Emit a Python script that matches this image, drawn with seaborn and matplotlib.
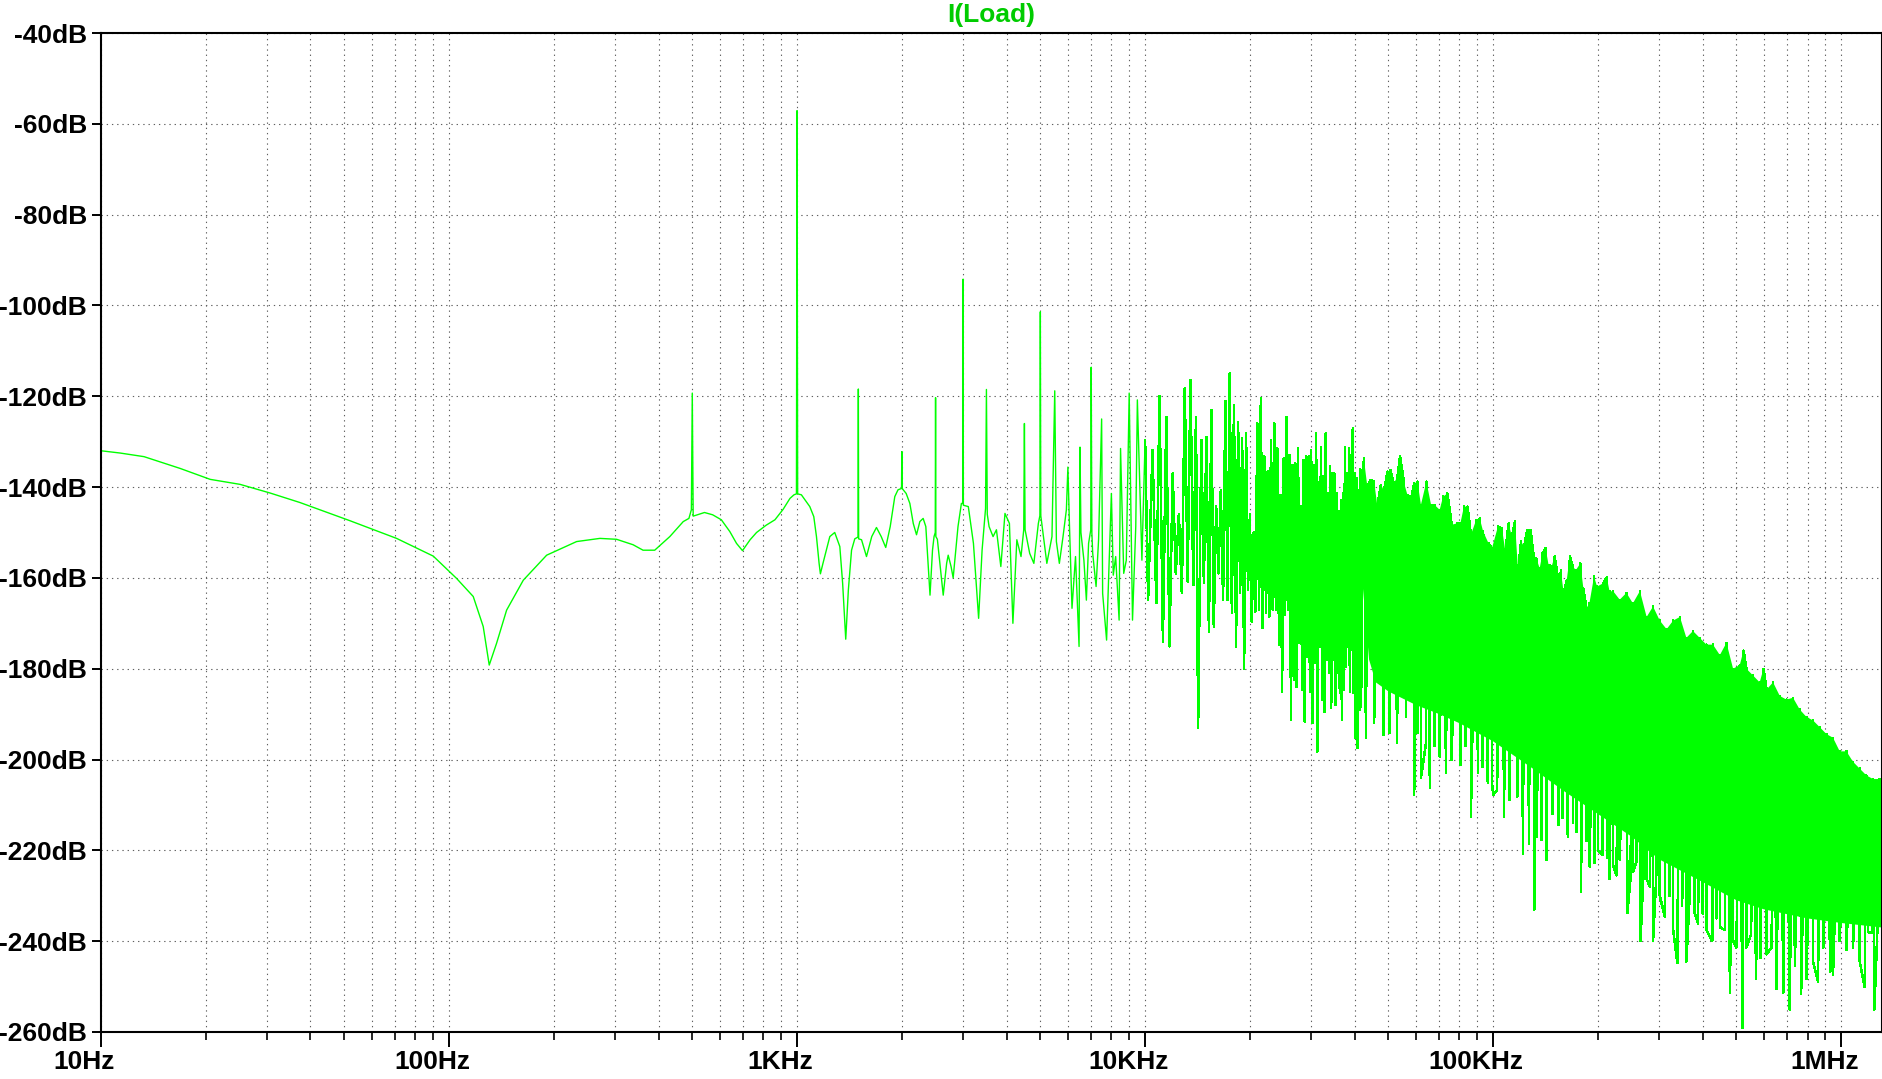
import matplotlib
matplotlib.use('Agg')
import matplotlib.pyplot as plt
import matplotlib.ticker as mticker
import matplotlib.transforms as mtransforms
import pandas as pd
import seaborn as sns

# FFT of I(Load)

# 10 Hz .. 10 kHz: smooth part with the harmonic spikes (Hz, dB)
lf_hz = [10, 11.35, 13.3, 16.9, 20.6, 25.1, 30.6, 37.3, 51.9, 70.7, 90.1, 100,
         105.1, 117.4, 125.4, 130.5, 137.0, 146.4, 163.5, 190.8, 232.6, 271.4,
         303, 338, 361, 390, 431, 471, 489, 497, 500, 503, 542, 572, 606, 641,
         670, 697, 733, 765, 815, 864, 912, 954, 980, 996, 1000, 1004, 1029,
         1088, 1117, 1137, 1157, 1167, 1187, 1242, 1283, 1327, 1352, 1380, 1404,
         1434, 1465, 1497, 1500, 1503, 1532, 1583, 1639, 1691, 1745, 1798, 1852,
         1909, 1950, 1996, 2000, 2004, 2058, 2109, 2157, 2204, 2253, 2303, 2344,
         2366, 2410, 2450, 2475, 2495, 2500, 2505, 2530, 2560, 2630, 2690, 2718,
         2770, 2809, 2900, 2966, 2995, 3000, 3005, 3105, 3212, 3324, 3401, 3480,
         3500, 3520, 3562, 3657, 3740, 3850, 3957, 4075, 4170, 4280, 4400, 4480,
         4500, 4520, 4660, 4790, 4935, 4985, 5000, 5015, 5220, 5400, 5500, 5560,
         5670, 5810, 5940, 6000, 6060, 6165, 6310, 6460, 6500, 6540, 6670, 6780,
         6880, 6980, 7000, 7030, 7070, 7230, 7350, 7500, 7550, 7750, 8000, 8100,
         8230, 8420, 8500, 8680, 8830, 9000, 9200, 9400, 9500, 9790, 10000]
lf_db = [-132.0, -132.5, -133.3, -135.9, -138.3, -139.4, -141.3, -143.4, -147.4,
         -151.3, -155.2, -158.5, -160.1, -164.1, -170.7, -179.2, -174.4, -167.1,
         -160.5, -155.0, -152.0, -151.3, -151.5, -152.7, -153.9, -153.9, -150.9,
         -147.6, -146.9, -145.0, -119.3, -146.4, -145.6, -146.1, -147.2, -149.8,
         -152.4, -154.0, -151.6, -150.0, -148.4, -147.2, -144.9, -142.5, -141.7,
         -141.5, -57.1, -141.5, -141.7, -144.3, -146.5, -150.9, -156.8, -159.1,
         -156.8, -150.9, -150.0, -153.1, -161.2, -173.5, -162.7, -153.9, -151.4,
         -151.0, -118.4, -151.4, -151.6, -155.3, -150.9, -148.9, -150.9, -153.3,
         -148.7, -142.1, -140.6, -140.3, -132.2, -140.3, -141.4, -143.6, -148.0,
         -150.5, -147.6, -146.9, -148.7, -153.9, -163.8, -153.9, -150.9, -150.0,
         -120.3, -150.9, -151.5, -155.3, -163.8, -156.8, -155.0, -157.5, -160.0,
         -148.7, -143.6, -143.6, -94.2, -144.0, -144.3, -152.4, -168.9, -153.9,
         -144.7, -118.5, -146.0, -148.7, -150.9, -149.4, -157.5, -145.8, -148.0,
         -170.0, -151.6, -155.3, -149.4, -126.0, -149.4, -154.6, -156.8, -148.0,
         -146.3, -101.4, -146.3, -156.8, -150.9, -118.8, -152.0, -156.8, -150.9,
         -145.0, -135.6, -148.0, -166.7, -155.3, -175.1, -131.2, -150.0, -156.1,
         -164.9, -152.4, -149.4, -113.6, -150.0, -154.6, -161.9, -151.6, -125.0,
         -163.4, -173.7, -141.4, -159.4, -155.3, -169.3, -131.5, -159.0, -156.1,
         -119.3, -169.3, -148.7, -120.8, -156.1, -129.6]

# 10 kHz .. 42 kHz: harmonic comb, trough / peak alternating (kHz, dB)
hf_khz = [10.2, 10.5, 10.77, 11.0, 11.25, 11.5, 11.75, 12.0, 12.25, 12.5, 12.75,
          13.0, 13.25, 13.5, 13.75, 14.0, 14.2, 14.5, 14.75, 15.0, 15.25, 15.5,
          15.75, 16.0, 16.25, 16.5, 16.75, 17.0, 17.25, 17.5, 17.75, 18.0, 18.25,
          18.5, 18.75, 19.0, 19.25, 19.5, 19.75, 20.0, 20.25, 20.5, 20.75, 21.0,
          21.25, 21.5, 21.75, 22.0, 22.25, 22.5, 22.75, 23.0, 23.25, 23.5, 23.75,
          24.0, 24.25, 24.5, 24.75, 25.0, 25.25, 25.5, 25.75, 26.0, 26.25, 26.5,
          26.75, 27.0, 27.25, 27.5, 27.75, 28.0, 28.25, 28.5, 28.75, 29.0, 29.25,
          29.5, 29.75, 30.0, 30.25, 30.5, 30.75, 31.0, 31.25, 31.5, 31.75, 32.0,
          32.25, 32.5, 32.75, 33.0, 33.25, 33.5, 33.75, 34.0, 34.25, 34.5, 34.75,
          35.0, 35.25, 35.5, 35.75, 36.0, 36.25, 36.5, 36.75, 37.0, 37.25, 37.5,
          37.75, 38.0, 38.25, 38.5, 38.75, 39.0, 39.25, 39.5, 39.75, 40.0, 40.25,
          40.5, 40.75, 41.0, 41.25, 41.5, 41.75, 42.0]
hf_db = [-164.9, -131.8, -165.6, -120.0, -174.0, -124.5, -175.1, -137.0, -159.0,
         -146.0, -163.4, -118.2, -160.8, -116.4, -161.6, -124.5, -193.1, -129.6,
         -161.0, -128.9, -171.8, -123.0, -170.7, -144.3, -159.0, -140.6, -164.9,
         -121.0, -164.9, -114.9, -167.8, -121.9, -175.1, -125.6, -163.4, -129.3,
         -180.0, -128.2, -162.7, -146.0, -169.6, -150.0, -167.4, -126.0, -167.0,
         -120.4, -171.1, -133.3, -167.8, -136.6, -168.5, -129.6, -167.0, -126.0,
         -167.0, -131.5, -174.8, -141.7, -185.0, -133.7, -168.2, -124.5, -167.0,
         -132.9, -191.3, -135.1, -182.5, -134.8, -184.0, -131.5, -174.4, -144.3,
         -184.7, -134.0, -191.7, -133.3, -177.3, -133.3, -185.0, -131.8, -192.0,
         -135.1, -178.8, -128.2, -198.3, -139.0, -175.1, -131.1, -186.9, -137.7,
         -189.5, -128.2, -178.1, -141.4, -181.0, -135.5, -188.7, -137.0, -178.1,
         -137.0, -188.0, -141.4, -181.0, -145.4, -185.4, -142.8, -191.3, -141.4,
         -184.7, -131.1, -179.5, -137.0, -175.1, -131.5, -185.0, -132.9, -175.9,
         -127.1, -185.4, -137.0, -195.3, -138.1, -197.5, -140.6, -189.1, -136.0,
         -188.4, -148.7]

# above 42 kHz the trace fills a band
# peaks on its upper edge (kHz, dB)
peak_khz = [42.5, 43.5, 44.5, 45.5, 46.5, 47.5, 48.6, 49.7,
            50.6, 51.8, 53.1, 54.0, 55.5, 56.7, 58.0, 59.3, 60.6, 62.0, 64.3,
            66.3, 67.8, 70.2, 71.8, 73.9, 76.0, 78.7, 80.5, 82.4, 84.4, 86.3,
            89.4, 91.5, 93.6, 97.0, 99.2, 103.2, 106.0, 108.4, 110.7, 113.2,
            115.5, 117.9, 120.3, 122.7, 125.4, 128.0, 130.6, 133.1, 136.0,
            138.6, 141.5, 144.3, 147.2, 150.2, 153.3, 156.4, 159.5, 162.7,
            166.0, 169.4, 172.8, 178.0, 181.6, 185.2, 189.0, 194.9, 198.8, 207,
            212, 216, 221, 231, 241.5, 252, 264, 276, 288, 301, 315, 329, 344,
            359, 375, 392, 410, 428, 448, 468, 489, 511, 524, 534, 558, 583,
            598, 610, 637, 666, 696, 727, 760, 794, 830, 868, 907, 947, 990,
            1035, 1081, 1130, 1181, 1234, 1290, 1310]
peak_db = [-133.7, -139.9, -138.4, -138.8, -144.3,
           -139.6, -140.7, -136.6, -136.2, -139.2, -137.7, -133.3, -139.2,
           -141.7, -142.8, -139.2, -138.8, -143.9, -138.8, -143.9, -143.9,
           -145.0, -142.1, -141.4, -148.3, -148.0, -148.0, -144.3, -144.3,
           -150.5, -147.2, -146.9, -149.8, -152.4, -153.5, -148.7, -149.1,
           -154.2, -148.0, -150.9, -147.6, -158.6, -152.0, -153.1, -149.4,
           -149.4, -155.0, -155.7, -157.9, -154.6, -153.5, -157.2, -157.5,
           -155.3, -159.7, -158.3, -163.4, -160.5, -155.3, -157.5, -158.3,
           -156.8, -162.3, -166.7, -165.6, -159.7, -161.9, -161.2, -159.9,
           -163.0, -162.9, -164.8, -163.3, -165.6, -162.9, -168.6, -166.3,
           -169.4, -171.3, -169.4, -168.6, -173.2, -171.7, -173.2, -174.7,
           -174.7, -177.0, -174.3, -180.0, -179.2, -176.0, -180.0, -181.5,
           -183.0, -180.0, -184.6, -183.0, -186.0, -186.8, -186.4, -189.0,
           -190.6, -191.4, -192.9, -194.4, -195.2, -198.2, -198.2, -200.5,
           -202.0, -203.5, -204.3, -204.3, -206.0]

# ends of the downward strokes on its lower edge (kHz, dB)
tip_khz = [43.1, 45.5, 48.4, 50.3, 53.0, 56.2, 59.3, 60.6, 62.0, 64.1, 65.8,
           67.8, 70.2, 73.2, 76.0, 80.5, 83.2, 86.3, 90.4, 93.2, 96.5, 99.2, 100,
           102.7, 107.5, 111.3, 117.3, 121.8, 126.7, 131.3, 133.4, 137.8, 142.2,
           147.9, 154, 158.3, 163.8, 169.4, 173.3, 178.8, 185.3, 189.3, 195.3,
           200, 206, 212, 216, 221, 226, 231, 243, 248, 252, 258, 265, 270, 276,
           282, 288, 294, 301, 311, 321, 329, 338, 349, 359, 366, 379, 388, 400,
           410, 426, 438, 448, 463, 479, 489, 500, 520, 534, 551, 569, 587, 610,
           631, 652, 682, 711, 736, 767, 794, 830, 858, 889, 930, 947, 990, 1035,
           1081, 1130, 1168, 1195, 1225, 1245, 1270, 1310]
tip_db = [-195.3, -192.0, -194.6, -194.2, -196.4, -190.6, -207.8, -194.2, -204.1,
          -196.4, -206.3, -197.0, -199.4, -203.0, -200.1, -201.2, -197.0, -212.6,
          -203.0, -201.6, -205.2, -205.2, -207.8, -206.7, -212.6, -208.9, -208.2,
          -220.8, -218.5, -233.0, -217.0, -217.7, -222.1, -212.0, -214.4, -212.9,
          -217.0, -214.0, -216.0, -229.1, -218.0, -223.6, -222.8, -220.0, -221.0,
          -221.7, -226.3, -223.2, -225.5, -222.0, -233.8, -226.3, -224.8, -222.5,
          -239.9, -226.0, -226.3, -228.0, -239.9, -226.3, -230.0, -234.6, -230.0,
          -237.6, -244.8, -232.3, -244.5, -231.6, -233.8, -236.1, -234.0, -237.6,
          -239.9, -235.0, -236.9, -237.6, -251.3, -239.9, -241.4, -259.2, -241.4,
          -238.5, -248.3, -243.7, -242.9, -241.4, -250.5, -251.3, -255.1, -245.4,
          -251.6, -248.3, -244.5, -249.0, -241.4, -246.7, -247.5, -240.0, -242.0,
          -241.4, -244.5, -250.1, -238.0, -238.2, -255.1, -237.6, -240.0]

# lower edge of the solid part of the band (kHz, dB)
floor_khz = [42, 44, 46, 50, 60, 70, 80, 100, 130, 160, 200, 250, 300, 400, 500,
             600, 800, 1000, 1310]
floor_db = [-160, -178, -183, -185, -188, -190, -192, -196, -202, -207, -212,
            -217, -222, -227, -231, -233, -235, -236, -237]

x_ticks_hz = [10, 100, 1000, 10000, 100000, 1000000]
x_tick_labels = ['10Hz', '100Hz', '1KHz', '10KHz', '100KHz', '1MHz']
y_ticks_db = [-40, -60, -80, -100, -120, -140, -160, -180, -200, -220, -240, -260]
y_tick_labels = [f'{v}dB' for v in y_ticks_db]

trace_color = '#00ff00'

sns.set_theme(style='white')
plt.rcParams['font.family'] = ['Liberation Sans', 'DejaVu Sans']

fig = plt.figure(figsize=(18.83, 10.79), dpi=100)
ax = fig.add_axes([0.0536, 0.0436, 0.9459, 0.9258])

# smooth low-frequency part of the trace
low = pd.DataFrame({'freq': lf_hz, 'db': lf_db})
sns.lineplot(data=low, x='freq', y='db', sort=False, estimator=None,
             color=trace_color, linewidth=1.0, ax=ax)

# comb and band: peaks and stroke ends in frequency order, drawn crisp
band = pd.DataFrame({'freq': [k * 1000 for k in peak_khz + tip_khz],
                     'db': peak_db + tip_db}).sort_values('freq', kind='stable')
high = pd.concat([
    pd.DataFrame({'freq': [lf_hz[-1]] + [k * 1000 for k in hf_khz],
                  'db': [lf_db[-1]] + hf_db}),
    band,
], ignore_index=True)
sns.lineplot(data=high, x='freq', y='db', sort=False, estimator=None,
             color=trace_color, linewidth=1.1, antialiased=False, ax=ax)

# solid body of the band: from the peak line down to the floor
body_f = [k * 1000 for k in peak_khz] + [k * 1000 for k in floor_khz[::-1]]
body_db = peak_db + floor_db[::-1]
ax.fill(body_f, body_db, color=trace_color, linewidth=0)

ax.set_xscale('log')
ax.set_xlim(10, 1.31e6)
ax.set_ylim(-260, -40)
ax.set_xlabel('')
ax.set_ylabel('')

ax.set_xticks(x_ticks_hz)
ax.set_xticklabels(x_tick_labels)
ax.xaxis.set_minor_locator(mticker.LogLocator(base=10, subs=[2, 3, 4, 5, 6, 7, 8, 9], numticks=20))
ax.xaxis.set_minor_formatter(mticker.NullFormatter())
ax.set_yticks(y_ticks_db)
ax.set_yticklabels(y_tick_labels)

ax.tick_params(axis='x', which='major', direction='out', length=10.5, width=1.4,
               pad=2.5, labelsize=19, colors='black', bottom=True)
ax.tick_params(axis='x', which='minor', direction='out', length=5.5, width=1.4,
               bottom=True)
ax.tick_params(axis='y', which='major', direction='out', length=6.5, width=1.4,
               pad=3.5, labelsize=19, colors='black', left=True)
for lab in ax.get_xticklabels() + ax.get_yticklabels():
    lab.set_fontweight('bold')
# LTspice puts the frequency labels a bit left of the tick
shift = mtransforms.ScaledTranslation(-17 / 100, 0, fig.dpi_scale_trans)
for lab in ax.get_xticklabels():
    lab.set_transform(lab.get_transform() + shift)

grid_kw = dict(color='#606060', linewidth=0.8, linestyle=(0, (1.2, 3.5)))
ax.grid(True, which='both', axis='x', **grid_kw)
ax.grid(True, which='major', axis='y', **grid_kw)
ax.set_axisbelow(True)

for sp in ax.spines.values():
    sp.set_visible(True)
    sp.set_color('black')
    sp.set_linewidth(1.5)

ax.set_title('I(Load)', color='#00cc00', fontsize=19, fontweight='bold', pad=8)

fig.savefig('out.png', dpi=100)
